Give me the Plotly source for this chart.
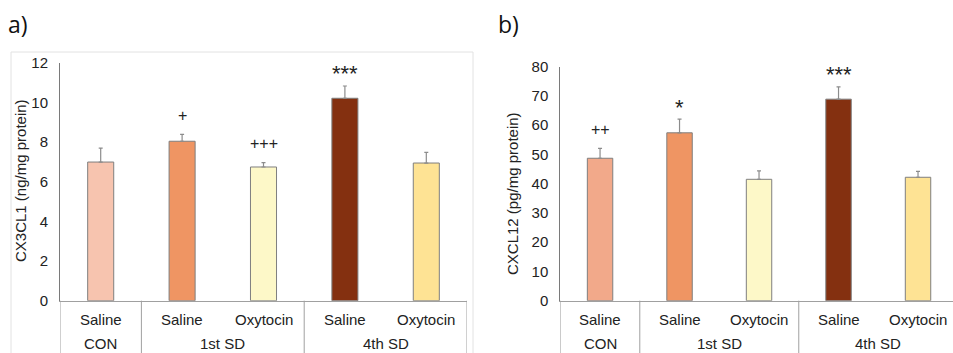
import plotly.graph_objects as go

# Treatment labels (lower row = group, upper row = treatment)
treatments = ["Saline", "Saline", "Oxytocin", "Saline", "Oxytocin"]
groups = ["CON", "1st SD", "4th SD"]
group_spans = [(0, 0), (1, 2), (3, 4)]

# CX3CL1 (ng/mg protein)
cx3cl1_mean = [7.0, 8.05, 6.75, 10.22, 6.95]
cx3cl1_err = [0.70, 0.35, 0.22, 0.62, 0.54]
cx3cl1_sig = ["", "+", "+++", "***", ""]

# CXCL12 (pg/mg protein)
cxcl12_mean = [48.7, 57.4, 41.5, 68.9, 42.2]
cxcl12_err = [3.4, 4.7, 2.9, 4.2, 2.0]
cxcl12_sig = ["++", "*", "", "***", ""]

colors_a = ["#F7C4AF", "#EF9563", "#FDF8C8", "#843010", "#FEE394"]
colors_b = ["#F2A98A", "#EF9563", "#FDF8C8", "#843010", "#FEE394"]

W, H = 953, 353
FONT = "Liberation Sans"
TXT = "#222222"


def py(px):
    return (H - px) / H


fig = go.Figure()
xs = list(range(len(treatments)))

for xa, ya, means, errs, cols in [
    ("x", "y", cx3cl1_mean, cx3cl1_err, colors_a),
    ("x2", "y2", cxcl12_mean, cxcl12_err, colors_b),
]:
    fig.add_trace(go.Bar(
        x=xs, y=means, xaxis=xa, yaxis=ya, width=0.32,
        marker=dict(color=cols, line=dict(color="#7f7f7f", width=1)),
        error_y=dict(type="data", array=errs, arrayminus=[0] * len(errs),
                     symmetric=False, color="#8c8c8c", thickness=1.2, width=2),
        showlegend=False, hoverinfo="skip",
    ))

axis_common = dict(showgrid=False, zeroline=False, ticks="", showticklabels=False)
ytick_font = dict(family=FONT, size=15, color=TXT)
fig.update_layout(
    width=W, height=H, margin=dict(l=0, r=0, t=0, b=0, autoexpand=False),
    paper_bgcolor="white", plot_bgcolor="white", font=dict(family=FONT),
    xaxis=dict(domain=[60 / W, 467 / W], range=[-0.5, 4.5], anchor="y",
               showline=True, linecolor="#a0a0a0", linewidth=1, **axis_common),
    yaxis=dict(domain=[py(300.7), py(63)], range=[0, 12], dtick=2, anchor="x",
               showline=True, linecolor="#7a7a7a", linewidth=1, showgrid=False,
               zeroline=False, ticks="", tickfont=ytick_font, ticklabelstandoff=8),
    xaxis2=dict(domain=[560.3 / W, 1.0], range=[-0.5, 4.44], anchor="y2",
                showline=True, linecolor="#a0a0a0", linewidth=1, **axis_common),
    yaxis2=dict(domain=[py(300.7), py(66.7)], range=[0, 80], dtick=10, anchor="x2",
                showline=True, linecolor="#7a7a7a", linewidth=1, showgrid=False,
                zeroline=False, ticks="", tickfont=ytick_font, ticklabelstandoff=8),
)

shapes = []
annotations = []

# Light frame around panel a
shapes.append(dict(type="rect", xref="paper", yref="paper",
                   x0=11 / W, x1=473 / W, y0=-0.05, y1=py(52),
                   line=dict(color="#e2e2e2", width=1)))

for xa, ya in [("x", "y"), ("x2", "y2")]:
    # group dividers of the category table
    for xd in [-0.5, 0.5, 2.5, 4.5]:
        shapes.append(dict(type="line", xref=xa, yref="paper",
                           x0=xd, x1=xd, y0=py(300.7), y1=0,
                           line=dict(color="#a0a0a0", width=1)))
    for i, t in enumerate(treatments):
        annotations.append(dict(x=i, y=py(319), xref=xa, yref="paper", text=t,
                                showarrow=False, yanchor="middle", xanchor="center",
                                font=dict(family=FONT, size=15, color=TXT)))
    for g, (a, b) in zip(groups, group_spans):
        annotations.append(dict(x=(a + b) / 2, y=0, xref=xa, yref="paper", text=g,
                                showarrow=False, yanchor="bottom", xanchor="center",
                                borderpad=0,
                                font=dict(family=FONT, size=15, color=TXT)))

# significance marks above the error bars
for xa, ya, means, errs, sigs in [
    ("x", "y", cx3cl1_mean, cx3cl1_err, cx3cl1_sig),
    ("x2", "y2", cxcl12_mean, cxcl12_err, cxcl12_sig),
]:
    for i, s in enumerate(sigs):
        if not s:
            continue
        star = "*" in s
        annotations.append(dict(x=i, y=means[i] + errs[i], xref=xa, yref=ya,
                                text=s, showarrow=False, yanchor="middle", xanchor="center",
                                yshift=12 if star else 19,
                                font=dict(family=FONT, size=22 if star else 16, color=TXT)))

# axis titles
annotations.append(dict(x=20 / W, y=py(181), xref="paper", yref="paper",
                        text="CX3CL1 (ng/mg protein)", textangle=-90, showarrow=False,
                        xanchor="center", yanchor="middle",
                        font=dict(family=FONT, size=15, color=TXT)))
annotations.append(dict(x=513 / W, y=py(194), xref="paper", yref="paper",
                        text="CXCL12 (pg/mg protein)", textangle=-90, showarrow=False,
                        xanchor="center", yanchor="middle",
                        font=dict(family=FONT, size=15, color=TXT)))

# panel letters
annotations.append(dict(x=6 / W, y=py(24), xref="paper", yref="paper", text="a)",
                        xanchor="left", yanchor="middle", showarrow=False,
                        font=dict(family="Open Sans", size=23, color="#111111")))
annotations.append(dict(x=496 / W, y=py(24), xref="paper", yref="paper", text="b)",
                        xanchor="left", yanchor="middle", showarrow=False,
                        font=dict(family="Open Sans", size=23, color="#111111")))

fig.update_layout(shapes=shapes, annotations=annotations)
fig.write_html("out.html")
